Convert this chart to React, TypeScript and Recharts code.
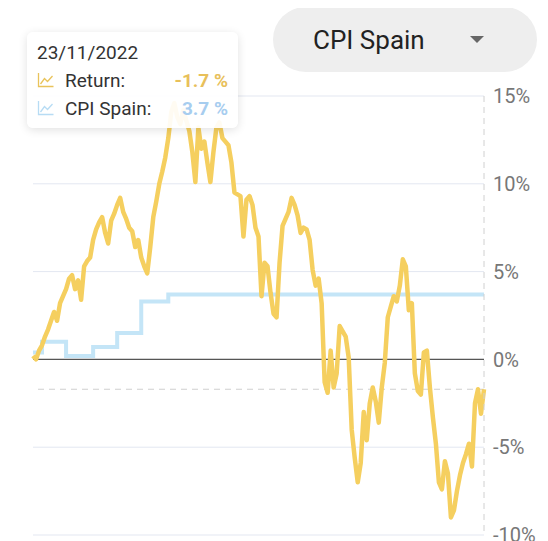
import { LineChart, Line, XAxis, YAxis, CartesianGrid, ReferenceLine, Tooltip } from 'recharts'

// portfolio return (%) sampled along the period, last point = 23/11/2022
const returnPct = [
  0.2, 0.0, 0.5, 0.8, 1.3, 1.7, 2.2, 2.7, 2.2, 3.2, 3.6, 4.0, 4.6, 4.8, 4.0, 4.5,
  3.4, 5.3, 5.6, 5.8, 6.8, 7.4, 7.8, 8.1, 7.2, 6.6, 7.9, 8.3, 8.8, 9.2, 8.4, 8.0,
  7.5, 7.3, 6.4, 6.8, 5.8, 5.3, 4.9, 6.4, 8.1, 9.0, 10.0, 10.7, 11.5, 12.6, 14.1, 14.6,
  13.8, 13.4, 14.2, 13.6, 13.0, 11.8, 10.1, 13.2, 12.0, 12.4, 11.2, 10.1, 11.8, 13.2, 13.5, 12.6,
  12.4, 12.2, 11.2, 9.5, 9.4, 9.3, 7.0, 9.1, 9.3, 8.8, 7.5, 7.0, 3.6, 5.5, 5.3, 3.8,
  2.6, 2.4, 5.5, 7.6, 8.0, 8.4, 9.2, 8.8, 8.2, 7.2, 7.5, 7.4, 6.8, 5.1, 4.2, 4.6,
  3.2, -1.3, -1.9, 0.5, -1.6, -0.8, 1.9, 1.6, 1.3, 0.1, -4.0, -5.6, -7.0, -5.9, -3.0, -4.6,
  -2.5, -1.6, -2.4, -3.6, -1.6, -0.2, 2.4, 3.0, 3.6, 3.3, 4.2, 5.7, 5.3, 2.8, 3.2, -0.8,
  -1.8, -2.0, 0.4, 0.5, -1.6, -3.3, -4.8, -7.0, -7.4, -5.8, -6.5, -9.0, -8.6, -7.5, -6.6, -5.9,
  -5.4, -4.8, -6.1, -2.5, -1.7, -3.1, -1.7,
]

// CPI Spain readings and the sample index where each one starts
const cpiValues = [0.4, 1.0, 0.2, 0.7, 1.5, 3.3, 3.7]
const cpiStart = [0, 3, 11, 20, 28, 36, 45]

const yTicks = [-10, -5, 0, 5, 10, 15]
const lastDate = '23/11/2022'

const RETURN_COLOR = '#f5cf5f'
const CPI_COLOR = '#c4e5f7'

const data = returnPct.map((r, i) => {
  let k = 0
  cpiStart.forEach((s, j) => {
    if (i >= s) k = j
  })
  return { i, ret: r, cpi: cpiValues[k] }
})

const lastIdx = data.length - 1
const last = data[lastIdx]

function ChartIcon({ color }: { color: string }) {
  return (
    <svg width={17} height={16} viewBox="0 0 17 16" style={{ marginRight: 11 }}>
      <path d="M1.5 1 V14.5 H16.5" fill="none" stroke={color} strokeWidth={1.3} />
      <path d="M3.5 12 L7.5 6.5 L10.5 9.5 L15.5 4" fill="none" stroke={color} strokeWidth={1.3} />
    </svg>
  )
}

function TooltipBox() {
  const row = (color: string, label: string, value: string, valColor: string) => (
    <div style={{ display: 'flex', alignItems: 'center', height: 28 }}>
      <ChartIcon color={color} />
      <span style={{ flex: 1, color: '#333' }}>{label}</span>
      <span style={{ color: valColor, fontWeight: 700 }}>{value}</span>
    </div>
  )
  return (
    <div
      style={{
        width: 211,
        boxSizing: 'border-box',
        padding: '8px 10px 6px 10px',
        background: 'rgba(255,255,255,0.92)',
        borderRadius: 6,
        boxShadow: '0 2px 10px rgba(0,0,0,0.12)',
        fontFamily: 'Roboto, sans-serif',
        fontSize: 19,
        color: '#333',
      }}
    >
      <div style={{ height: 26, lineHeight: '26px' }}>{lastDate}</div>
      {row('#e9c35a', 'Return:', `${last.ret.toFixed(1)} %`, '#e8c05a')}
      {row('#b7dcf4', 'CPI Spain:', `${last.cpi.toFixed(1)} %`, '#a7cdef')}
    </div>
  )
}

export default function App() {
  return (
    <div style={{ position: 'relative', width: 540, height: 533, overflow: 'hidden', fontFamily: 'Roboto, sans-serif' }}>
      <LineChart width={540} height={545} data={data} margin={{ top: 88, right: 2, bottom: 18, left: 25 }}>
        <CartesianGrid vertical={false} stroke="#e3e7f1" strokeWidth={1} />
        <XAxis dataKey="i" type="number" domain={[0, lastIdx]} hide />
        <YAxis
          orientation="right"
          domain={[-10, 15]}
          ticks={yTicks}
          width={62}
          axisLine={false}
          tickLine={false}
          tickMargin={3}
          tickFormatter={(v: number) => `${v}%`}
          tick={{ fill: '#777', fontSize: 20, fontFamily: 'Roboto, sans-serif' }}
        />
        <ReferenceLine y={0} stroke="#555" strokeWidth={1.2} />
        <ReferenceLine y={last.ret} stroke="#cfcfcf" strokeDasharray="6 5" />
        <Line
          type="stepAfter"
          dataKey="cpi"
          stroke={CPI_COLOR}
          strokeWidth={4}
          dot={false}
          activeDot={false}
          isAnimationActive={false}
        />
        <Line
          type="linear"
          dataKey="ret"
          stroke={RETURN_COLOR}
          strokeWidth={4.5}
          strokeLinejoin="round"
          dot={false}
          activeDot={false}
          isAnimationActive={false}
        />
        <Tooltip
          defaultIndex={lastIdx}
          active
          isAnimationActive={false}
          position={{ x: 19, y: 24 }}
          cursor={{ stroke: '#d0d0d0', strokeDasharray: '6 5', strokeWidth: 1 }}
          content={() => <TooltipBox />}
        />
      </LineChart>
      <div
        style={{
          position: 'absolute',
          left: 265,
          top: -1,
          width: 264,
          height: 65,
          borderRadius: 33,
          background: '#eeeeee',
          display: 'flex',
          alignItems: 'center',
          boxSizing: 'border-box',
          paddingLeft: 40,
          fontSize: 26,
          color: '#222',
        }}
      >
        <span style={{ flex: 1 }}>CPI Spain</span>
        <svg width={14} height={8} style={{ marginRight: 53 }}>
          <path d="M0 0 L14 0 L7 7 Z" fill="#666" />
        </svg>
      </div>
    </div>
  )
}
